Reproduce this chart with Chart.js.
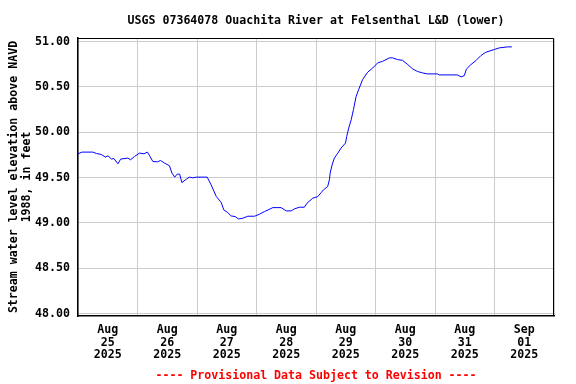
<!DOCTYPE html>
<html>
<head>
<meta charset="utf-8">
<script src="https://cdn.jsdelivr.net/npm/chart.js@4"></script>
<style>
  html, body { margin: 0; padding: 0; background: #fff; }
  #wrap { width: 576px; height: 384px; }
</style>
</head>
<body>
<div id="wrap"><canvas id="gageChart" width="576" height="384"></canvas></div>
<script>
const chartTitle = 'USGS 07364078 Ouachita River at Felsenthal L&D (lower)';
const footerText = '---- Provisional Data Subject to Revision ----';
const yTitle = ['Stream water level elevation above NAVD', '1988, in feet'];

// hours since Aug 25 2025 00:00
const hours = [0, 1.6, 6.0, 7.4, 9.4, 11.0, 12.1, 13.5, 14.5, 16.1, 17.2, 20.1, 21.2, 22.8,
    24.8, 26.6, 28.0, 28.9, 30.2, 32.0, 33.3, 34.9, 36.9, 37.9, 39.0, 40.0, 41.0, 41.9,
    43.7, 45.0, 46.3, 47.7, 52.1, 53.7, 55.8, 57.8, 58.8, 60.4, 61.8, 63.4, 64.7, 66.5,
    68.5, 71.2, 73.2, 75.2, 78.6, 81.9, 84.0, 86.0, 87.3, 89.3, 91.3, 92.4, 94.7, 96.7,
    98.1, 99.0, 100.7, 101.4, 101.7, 102.5, 103.4, 104.8, 106.1, 107.9, 108.4, 109.2,
    110.2, 111.1, 112.2, 113.2, 114.8, 116.8, 118.9, 120.9, 122.9, 125.6, 126.9, 128.9,
    130.9, 133.0, 135.0, 137.0, 139.0, 141.0, 145.0, 145.7, 153.1, 154.5, 155.8, 156.7,
    158.5, 160.5, 162.5, 164.5, 167.9, 169.9, 173.2, 175.0];
const elevation = [49.762, 49.781, 49.781, 49.766, 49.755, 49.726, 49.740, 49.704, 49.710,
    49.652, 49.704, 49.715, 49.696, 49.733, 49.770, 49.762, 49.781, 49.740, 49.677, 49.674,
    49.688, 49.660, 49.630, 49.549, 49.505, 49.538, 49.538, 49.445, 49.483, 49.505, 49.497,
    49.505, 49.505, 49.420, 49.291, 49.224, 49.144, 49.114, 49.077, 49.070, 49.044, 49.052,
    49.074, 49.074, 49.096, 49.125, 49.169, 49.169, 49.133, 49.133, 49.155, 49.173, 49.173,
    49.218, 49.273, 49.290, 49.335, 49.365, 49.401, 49.475, 49.549, 49.641, 49.715, 49.770,
    49.825, 49.881, 49.954, 50.046, 50.138, 50.249, 50.396, 50.470, 50.580, 50.661, 50.709,
    50.765, 50.782, 50.820, 50.820, 50.801, 50.793, 50.746, 50.698, 50.669, 50.654, 50.643,
    50.643, 50.632, 50.632, 50.610, 50.624, 50.698, 50.746, 50.790, 50.845, 50.882, 50.912,
    50.930, 50.941, 50.941];

const dayLabels = [['Aug', '25', '2025'], ['Aug', '26', '2025'], ['Aug', '27', '2025'],
    ['Aug', '28', '2025'], ['Aug', '29', '2025'], ['Aug', '30', '2025'],
    ['Aug', '31', '2025'], ['Sep', '01', '2025']];
const yTicks = [48.0, 48.5, 49.0, 49.5, 50.0, 50.5, 51.0];

const monoFont = { family: '"DejaVu Sans Mono", monospace', size: 11.6, weight: 'bold', lineHeight: 1.12 };

// title, footer and the box round the plot
const framePlugin = {
    id: 'frame',
    afterDraw(chart) {
        const { ctx, chartArea } = chart;
        const cx = (chartArea.left + chartArea.right) / 2;
        ctx.save();
        ctx.strokeStyle = '#000';
        ctx.lineWidth = 1;
        ctx.beginPath();
        ctx.moveTo(chartArea.left, chartArea.top + 0.5);
        ctx.lineTo(chartArea.right - 0.5, chartArea.top + 0.5);
        ctx.lineTo(chartArea.right - 0.5, chartArea.bottom);
        ctx.stroke();
        ctx.font = 'bold 11.6px "DejaVu Sans Mono", monospace';
        ctx.textAlign = 'center';
        ctx.textBaseline = 'alphabetic';
        ctx.fillStyle = '#000';
        ctx.fillText(chartTitle, cx, 23.5);
        ctx.fillStyle = '#ff0000';
        ctx.fillText(footerText, cx, 378.5);
        ctx.restore();
    }
};

const ctx = document.getElementById('gageChart').getContext('2d');
const config = {
    type: 'line',
    data: {
        datasets: [{
            data: hours.map((h, i) => ({ x: h, y: elevation[i] })),
            borderColor: '#0000ff',
            borderWidth: 1,
            pointRadius: 0,
            tension: 0,
            fill: false
        }]
    },
    options: {
        responsive: false,
        animation: false,
        layout: { padding: { top: 38, right: 22, left: 0, bottom: 0 } },
        plugins: {
            legend: { display: false },
            tooltip: { enabled: false },
            title: { display: false }
        },
        scales: {
            x: {
                type: 'linear',
                min: 0,
                max: 192,
                afterFit: (s) => { s.height = 68; },
                afterBuildTicks: (s) => {
                    s.ticks = [];
                    for (let v = 0; v <= 192; v += 12) s.ticks.push({ value: v });
                },
                grid: {
                    color: (c) => (c.tick && c.tick.value % 24 === 0) ? '#cccccc' : 'rgba(0,0,0,0)',
                    drawTicks: false
                },
                border: { color: '#000', width: 1.5 },
                ticks: {
                    autoSkip: false,
                    maxRotation: 0,
                    padding: 7,
                    color: '#000',
                    font: monoFont,
                    callback: (v) => (v % 24 === 12) ? dayLabels[(v - 12) / 24] : ''
                }
            },
            y: {
                min: 47.974,
                max: 51.039,
                afterFit: (s) => { s.width = 78; },
                afterBuildTicks: (s) => { s.ticks = yTicks.map(v => ({ value: v })); },
                grid: { color: '#cccccc', drawTicks: false },
                border: { color: '#000', width: 1.5 },
                ticks: {
                    padding: 8,
                    color: '#000',
                    font: monoFont,
                    callback: (v) => v.toFixed(2)
                },
                title: {
                    display: true,
                    text: yTitle,
                    color: '#000',
                    font: { family: '"DejaVu Sans Mono", monospace', size: 11.6, weight: 'bold', lineHeight: 1.15 },
                    padding: { top: 7, bottom: 0 }
                }
            }
        }
    },
    plugins: [framePlugin]
};

const gageChart = new Chart(ctx, config);
</script>
</body>
</html>
